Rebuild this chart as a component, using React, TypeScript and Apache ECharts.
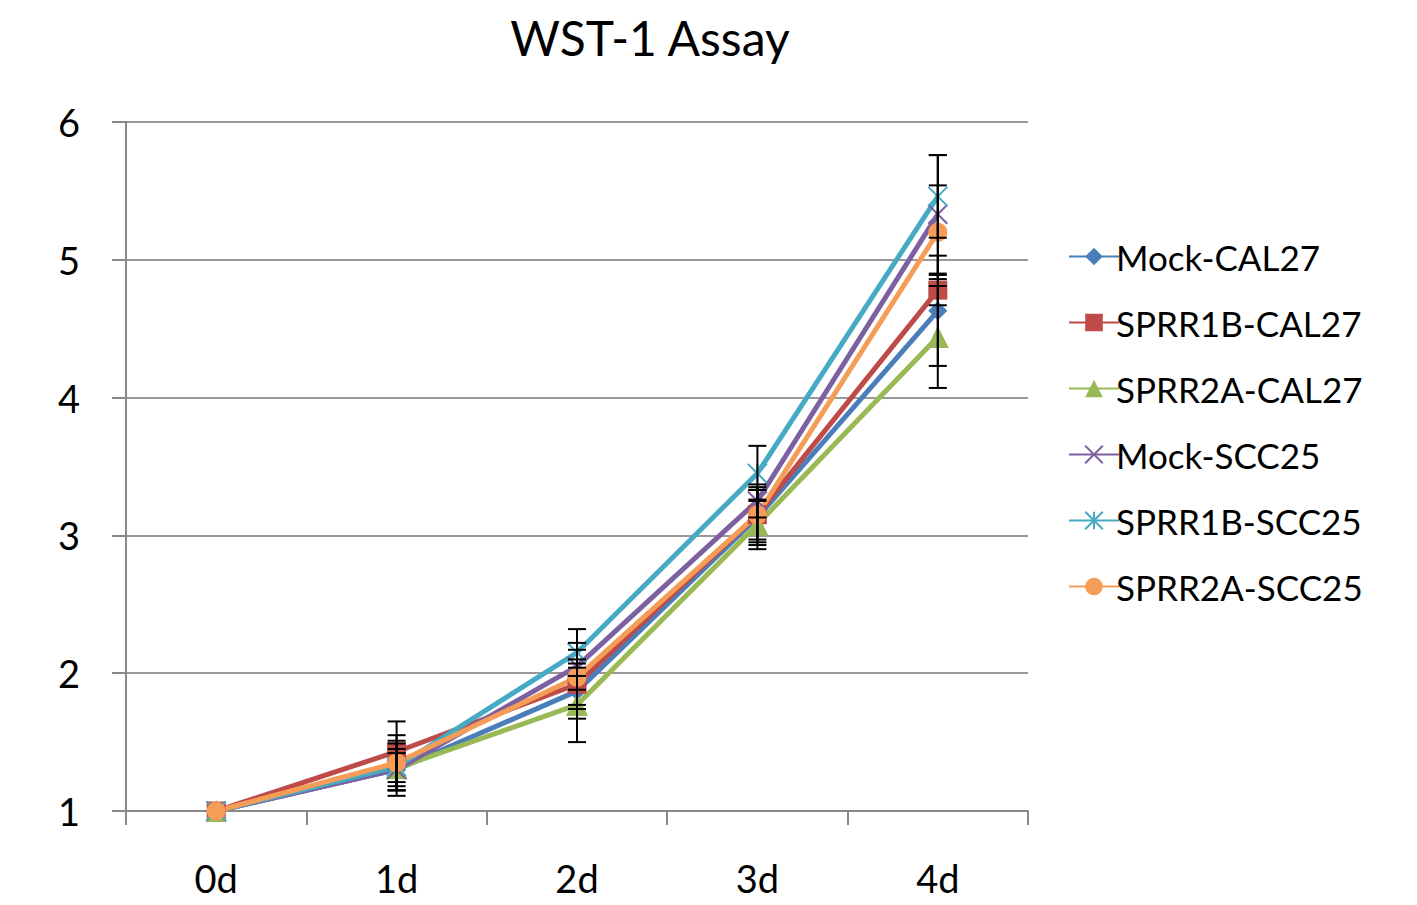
import { useEffect, useRef } from 'react';
import * as echarts from 'echarts';

const days = ['0d', '1d', '2d', '3d', '4d'];
const names = ['Mock-CAL27', 'SPRR1B-CAL27', 'SPRR2A-CAL27', 'Mock-SCC25', 'SPRR1B-SCC25', 'SPRR2A-SCC25'];
const colors = ['#4a7ebb', '#be4b48', '#98b954', '#7d60a0', '#46aac5', '#f59d56'];
const mockCal27 = [1, 1.30, 1.87, 3.13, 4.63];
const sprr1bCal27 = [1, 1.43, 1.92, 3.15, 4.78];
const sprr2aCal27 = [1, 1.31, 1.77, 3.08, 4.44];
const mockScc25 = [1, 1.30, 2.05, 3.25, 5.33];
const sprr1bScc25 = [1, 1.32, 2.15, 3.45, 5.46];
const sprr2aScc25 = [1, 1.35, 1.97, 3.15, 5.20];
const errMockCal27 = [0, 0.12, 0.2, 0.2, 0.4];
const errSprr1bCal27 = [0, 0.22, 0.18, 0.18, 0.11];
const errSprr2aCal27 = [0, 0.2, 0.27, 0.18, 0.37];
const errMockScc25 = [0, 0.15, 0.17, 0.12, 0.43];
const errSprr1bScc25 = [0, 0.17, 0.17, 0.2, 0.3];
const errSprr2aScc25 = [0, 0.2, 0.2, 0.2, 0.34];

const values = [mockCal27, sprr1bCal27, sprr2aCal27, mockScc25, sprr1bScc25, sprr2aScc25];
const errors = [errMockCal27, errSprr1bCal27, errSprr2aCal27, errMockScc25, errSprr1bScc25, errSprr2aScc25];
const symbols = [
  'diamond', 'rect', 'triangle',
  'path://M0,0L10,10M10,0L0,10',
  'path://M0,0L10,10M10,0L0,10M5,0L5,10',
  'circle',
];

export default function App() {
  const chartRef = useRef(null);
  useEffect(() => {
    const chart = echarts.init(chartRef.current, null, { renderer: 'svg' });
    const font = 'Lato, "Open Sans", sans-serif';
    const errData: number[][] = [];
    values.forEach((s, i) => s.forEach((v, j) => {
      if (errors[i][j] > 0) errData.push([j, v - errors[i][j], v + errors[i][j]]);
    }));
    const lineSeries = values.map((s, i) => {
      const stroked = i === 3 || i === 4;
      return {
        name: names[i],
        type: 'line',
        data: s,
        symbol: symbols[i],
        symbolSize: i === 2 ? 22 : 19,
        lineStyle: { color: colors[i], width: 5 },
        itemStyle: stroked
          ? { color: 'none', borderColor: colors[i], borderWidth: 2 }
          : { color: colors[i], borderWidth: 0 },
        z: 3,
      };
    });
    chart.setOption({
      animation: false,
      title: {
        text: 'WST-1 Assay', left: 637, top: 0, textAlign: 'center',
        textStyle: { fontFamily: font, fontSize: 48, fontWeight: 'normal', color: '#000' },
      },
      legend: {
        orient: 'vertical', left: 1055, top: 226, itemGap: 31, itemWidth: 50, itemHeight: 22,
        textStyle: { fontFamily: font, fontSize: 35, color: '#000', padding: [0, 0, 0, -8] },
        data: names,
      },
      grid: { left: 118, right: 380, top: 114, bottom: 84 },
      xAxis: {
        type: 'category', data: days, boundaryGap: true,
        axisLine: { lineStyle: { color: '#888', width: 2 } },
        axisTick: { show: true, length: 14, inside: false, lineStyle: { color: '#888', width: 2 } },
        axisLabel: { fontFamily: font, fontSize: 38, color: '#000', margin: 48 },
      },
      yAxis: {
        type: 'value', min: 1, max: 6, interval: 1,
        axisLine: { show: true, lineStyle: { color: '#888', width: 2 } },
        axisTick: { show: true, length: 14, lineStyle: { color: '#888', width: 2 } },
        axisLabel: { fontFamily: font, fontSize: 38, color: '#000', margin: 46 },
        splitLine: { lineStyle: { color: '#999', width: 2 } },
      },
      series: [
        ...lineSeries,
        {
          type: 'custom',
          data: errData,
          z: 4,
          silent: true,
          renderItem: (params: any, api: any) => {
            const x = api.value(0);
            const lo = api.coord([x, api.value(1)]);
            const hi = api.coord([x, api.value(2)]);
            const w = 9;
            const st = { stroke: '#000', lineWidth: 2 };
            return {
              type: 'group',
              children: [
                { type: 'line', shape: { x1: lo[0], y1: lo[1], x2: hi[0], y2: hi[1] }, style: st },
                { type: 'line', shape: { x1: lo[0] - w, y1: lo[1], x2: lo[0] + w, y2: lo[1] }, style: st },
                { type: 'line', shape: { x1: hi[0] - w, y1: hi[1], x2: hi[0] + w, y2: hi[1] }, style: st },
              ],
            };
          },
        },
      ],
    });
    return () => { chart.dispose(); };
  }, []);
  return <div ref={chartRef} style={{ width: '1400px', height: '889px' }} />;
}
